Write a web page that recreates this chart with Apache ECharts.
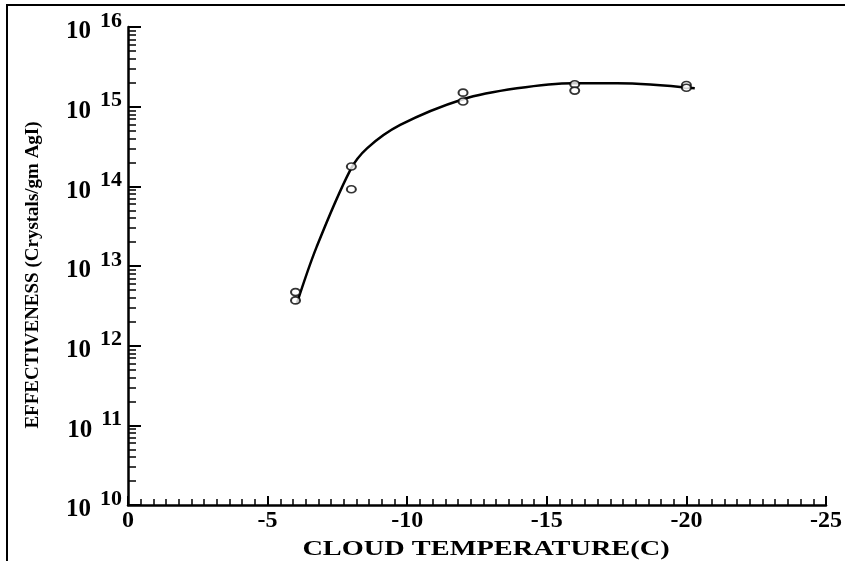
<!DOCTYPE html>
<html>
<head>
<meta charset="utf-8">
<script src="https://cdn.jsdelivr.net/npm/echarts@6.0.0/dist/echarts.min.js"></script>
<style>
  html, body { margin: 0; padding: 0; background: #fff; }
  #chart { width: 845px; height: 561px; }
</style>
</head>
<body>
<div id="chart"></div>
<script>
// measured points (two readings per temperature)
const pointTemps = [-6, -6, -8, -8, -12, -12, -16, -16, -20, -20]
const pointEffect = [4.7e12, 3.7e12, 1.77e14, 9.2e13, 1.5e15, 1.16e15, 1.91e15, 1.59e15, 1.87e15, 1.73e15]

// hand-drawn fitted curve
const curveTemps = [-6.05, -6.76, -7.96, -8.56, -9.75, -12.0, -13.93, -15.95, -17.52, -20.3]
const curveEffect = [3.4e12, 1.75e13, 1.6e14, 3.0e14, 5.9e14, 1.24e15, 1.7e15, 1.97e15, 1.97e15, 1.7e15]

// axis ticks
const xTicks = [0, -5, -10, -15, -20, -25]
const yExponents = [10, 11, 12, 13, 14, 15, 16]

const decades = yExponents.map(e => Math.pow(10, e))
const minorValues = []
yExponents.slice(0, -1).forEach(e => {
  for (let k = 2; k <= 9; k++) minorValues.push(k * Math.pow(10, e))
})

const FONT = '"Liberation Serif", "DejaVu Serif", serif'

const chart = echarts.init(document.getElementById('chart'))

chart.setOption({
  backgroundColor: '#fff',
  animation: false,
  grid: {
    left: 128,
    right: 19,
    top: 27,
    bottom: 56,
    outerBoundsMode: 'none'
  },
  graphic: [{
    type: 'rect',
    shape: { x: 7, y: 5, width: 900, height: 600 },
    style: { fill: null, stroke: '#000', lineWidth: 2 },
    silent: true
  }, {
    // the scanned figure is stretched sideways, so is its x title
    type: 'text',
    x: 486,
    y: 550,
    scaleX: 1.35,
    style: {
      text: 'CLOUD TEMPERATURE(C)',
      font: 'bold 21px ' + FONT,
      fill: '#000',
      textAlign: 'center',
      textVerticalAlign: 'middle'
    },
    silent: true
  }],
  xAxis: {
    type: 'value',
    inverse: true,
    min: -25,
    max: 0,
    interval: 5,
    axisLine: { lineStyle: { color: '#000', width: 2.5 } },
    axisTick: {
      inside: true, length: 9,
      customValues: xTicks,
      lineStyle: { color: '#000', width: 2 }
    },
    minorTick: {
      show: true, splitNumber: 11, length: 6,
      lineStyle: { color: '#000', width: 1.5 }
    },
    splitLine: { show: false },
    axisLabel: {
      customValues: xTicks,
      margin: 4,
      fontFamily: FONT, fontWeight: 'bold', fontSize: 24, color: '#000'
    }
  },
  yAxis: [{
    type: 'log',
    logBase: 10,
    min: 1e10,
    max: 1e16,
    position: 'left',
    name: 'EFFECTIVENESS (Crystals/gm AgI)',
    nameLocation: 'middle',
    nameRotate: 90,
    nameGap: 85,
    nameTextStyle: {
      fontFamily: FONT, fontWeight: 'bold', fontSize: 19, color: '#000',
      padding: [0, 18, 0, 0]
    },
    axisLine: { show: true, lineStyle: { color: '#000', width: 2.5 } },
    axisTick: {
      inside: true, length: 13,
      customValues: decades,
      lineStyle: { color: '#000', width: 2 }
    },
    splitLine: { show: false },
    axisLabel: {
      customValues: decades,
      margin: 6,
      formatter: v => '{b|10}{e|' + Math.round(Math.log10(v)) + '}',
      rich: {
        b: { fontFamily: FONT, fontWeight: 'bold', fontSize: 25, color: '#000', padding: [10, 9, 0, 0] },
        e: { fontFamily: FONT, fontWeight: 'bold', fontSize: 22, color: '#000', padding: [0, 0, 12, 0] }
      }
    }
  }, {
    // minor log ticks at 2..9 x 10^n
    type: 'log',
    logBase: 10,
    min: 1e10,
    max: 1e16,
    position: 'left',
    offset: 0,
    axisLine: { show: false },
    axisTick: {
      inside: true, length: 8,
      customValues: minorValues,
      lineStyle: { color: '#000', width: 1.5 }
    },
    axisLabel: { show: false },
    splitLine: { show: false }
  }],
  series: [{
    type: 'line',
    smooth: 0.35,
    showSymbol: false,
    data: curveTemps.map((t, i) => [t, curveEffect[i]]),
    lineStyle: { color: '#000', width: 2.5 },
    z: 2
  }, {
    type: 'scatter',
    symbol: 'circle',
    symbolSize: [9, 7],
    data: pointTemps.map((t, i) => [t, pointEffect[i]]),
    itemStyle: { color: '#fff', borderColor: '#000', borderWidth: 1.8 },
    z: 3
  }]
})
</script>
</body>
</html>
